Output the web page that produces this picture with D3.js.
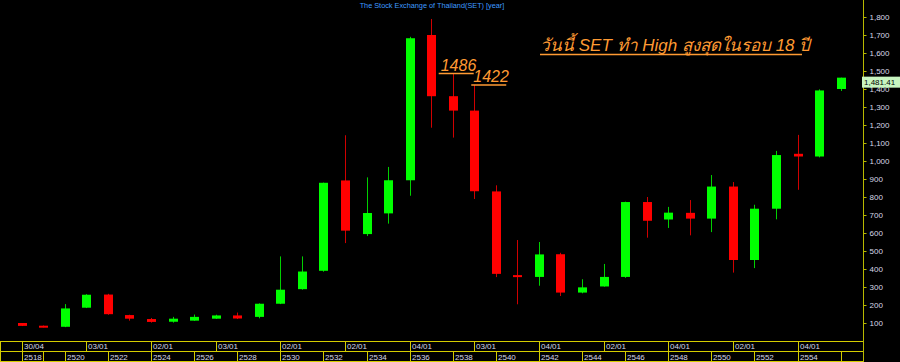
<!DOCTYPE html>
<html>
<head>
<meta charset="utf-8">
<script src="https://cdn.jsdelivr.net/npm/d3@7"></script>
<style>
  body { margin: 0; background: #000; }
  svg { display: block; }
</style>
</head>
<body>
<div id="chart"></div>
<script>
// yearly SET candles, Buddhist era years
var years = d3.range(2518, 2557);
var opens  = [100, 85, 79, 185, 258, 144, 122, 107, 113, 124, 142, 134, 207, 288, 390, 892, 594, 709, 893, 1700, 1360, 1280, 831, 366, 356, 482, 269, 303, 356, 772, 675, 712, 680, 858, 450, 735, 1040, 1025, 1400];
var highs  = [100, 86, 205, 260, 262, 146, 128, 134, 147, 146, 158, 209, 470, 470, 880, 1143, 909, 967, 1690, 1789, 1486, 1422, 865, 561, 550, 490, 343, 428, 774, 800, 745, 783, 922, 883, 757, 1056, 1145, 1398, 1463];
var lows   = [83, 76, 77, 183, 146, 113, 102, 102, 112, 123, 122, 126, 205, 285, 385, 544, 583, 652, 807, 1185, 1130, 789, 355, 204, 307, 250, 265, 302, 351, 574, 628, 587, 605, 380, 405, 676, 840, 1020, 1389];
var closes = [84, 77, 181, 257, 149, 124, 106, 124, 134, 142, 125, 207, 285, 386, 879, 613, 711, 893, 1682, 1360, 1280, 832, 373, 356, 481, 269, 298, 356, 772, 668, 713, 680, 858, 450, 735, 1033, 1025, 1392, 1463];

var priceTicks = d3.range(100, 1801, 100);
var dateLabels = ["30/04", "03/01", "02/01", "03/01", "02/01", "02/01", "04/01", "03/01", "04/01", "02/01", "04/01", "02/01", "04/01"];
var lastLabel = "1,481.41";

// annotated highs
var noteIdx = [20, 21];
var noteText = ["1486", "1422"];
var headline = "วันนี้ SET ทำ High สูงสุดในรอบ 18 ปี";

var W = 900, H = 362;
var axisX = 863, plotBottom = 341;

var svg = d3.select("#chart").append("svg")
    .attr("width", W)
    .attr("height", H)
    .style("background", "#000");

var x = d3.scaleLinear().domain([0, 38]).range([21.7, 840.6]);
var y = d3.scaleLinear().domain([0, 1800]).range([plotBottom, 17]);

var candles = years.map(function(yr, i){
    return {i: i, year: yr, o: opens[i], h: highs[i], l: lows[i], c: closes[i]};
});

//title
svg.append("text")
    .attr("x", 432)
    .attr("y", 8)
    .attr("text-anchor", "middle")
    .attr("font-family", "Liberation Sans, Arial, sans-serif")
    .attr("font-size", 7.3)
    .attr("fill", "#3f9bff")
    .text("The Stock Exchange of Thailand(SET) [year]");

//wicks
svg.selectAll(".wick")
    .data(candles)
    .enter()
    .append("line")
    .attr("class", "wick")
    .attr("x1", d => Math.round(x(d.i)) + 0.5)
    .attr("x2", d => Math.round(x(d.i)) + 0.5)
    .attr("y1", d => y(d.h))
    .attr("y2", d => y(d.l))
    .attr("stroke", d => d.c >= d.o ? "#00d000" : "#d00000")
    .attr("stroke-width", 1);

//bodies
svg.selectAll(".body")
    .data(candles)
    .enter()
    .append("rect")
    .attr("class", "body")
    .attr("x", d => Math.round(x(d.i)) - 4)
    .attr("width", 9)
    .attr("y", d => y(Math.max(d.o, d.c)))
    .attr("height", d => Math.max(2, Math.abs(y(d.o) - y(d.c))))
    .attr("fill", d => d.c >= d.o ? "#00ff00" : "#ff0000");

//right price axis
var yAxis = d3.axisRight(y)
    .tickValues(priceTicks)
    .tickSize(3)
    .tickPadding(3)
    .tickFormat(d3.format(","));

var ax = svg.append("g")
    .attr("transform", "translate(" + (axisX + 0.5) + ",0)")
    .call(yAxis);
ax.select(".domain").remove();
ax.selectAll(".tick line").attr("stroke", "#b8b800");
ax.selectAll(".tick text")
    .attr("fill", "#d8d8e8")
    .attr("font-family", "Liberation Sans, Arial, sans-serif")
    .attr("font-size", 8);

svg.append("line")
    .attr("x1", axisX + 0.5).attr("x2", axisX + 0.5)
    .attr("y1", 0).attr("y2", H)
    .attr("stroke", "#b8b800");

//last price label
var last = candles[candles.length - 1];
svg.append("rect")
    .attr("x", axisX - 1)
    .attr("y", y(last.c) - 1)
    .attr("width", W - axisX + 1)
    .attr("height", 11)
    .attr("fill", "#c8f5c0");
svg.append("text")
    .attr("x", axisX + 1)
    .attr("y", y(last.c) + 7.5)
    .attr("font-family", "Liberation Sans, Arial, sans-serif")
    .attr("font-size", 8)
    .attr("fill", "#000")
    .text(lastLabel);

//annotations at the highs
var noteDx = [-14, -3];
noteIdx.forEach(function(idx, k){
    var x0 = x(idx) + noteDx[k];
    var yy = y(highs[idx]);
    svg.append("line")
        .attr("x1", x0).attr("x2", x0 + 35)
        .attr("y1", yy).attr("y2", yy)
        .attr("stroke", "#ff9a33")
        .attr("stroke-width", 1.5);
    svg.append("text")
        .attr("x", x0 + 2)
        .attr("y", yy - 3)
        .attr("font-family", "Liberation Sans, Arial, sans-serif")
        .attr("font-style", "italic")
        .attr("font-size", 16)
        .attr("fill", "#ff9a33")
        .text(noteText[k]);
});

svg.append("text")
    .attr("x", 540)
    .attr("y", 51)
    .attr("font-family", "Liberation Sans, Arial, sans-serif")
    .attr("font-style", "italic")
    .attr("font-size", 17)
    .attr("fill", "#ff9a33")
    .text(headline);
svg.append("line")
    .attr("x1", 540).attr("x2", 802)
    .attr("y1", 54.5).attr("y2", 54.5)
    .attr("stroke", "#ff9a33")
    .attr("stroke-width", 1.5);

//date table at the bottom
var grid = "#d4cc00";
var rowTop = plotBottom + 0.5, rowMid = 351.5, rowBot = H - 0.5;
[rowTop, rowMid, rowBot].forEach(function(yy){
    svg.append("line")
        .attr("x1", 0).attr("x2", axisX)
        .attr("y1", yy).attr("y2", yy)
        .attr("stroke", grid);
});

var topIdx = dateLabels.map((d, k) => k * 3);
var topDiv = [0].concat(topIdx.map(i => x(i)));
svg.selectAll(".topdiv")
    .data(topDiv)
    .enter()
    .append("line")
    .attr("x1", d => Math.round(d) + 0.5).attr("x2", d => Math.round(d) + 0.5)
    .attr("y1", rowTop).attr("y2", rowMid)
    .attr("stroke", grid);

svg.selectAll(".toplab")
    .data(dateLabels)
    .enter()
    .append("text")
    .attr("x", (d, k) => Math.round(x(topIdx[k])) + 2)
    .attr("y", 349)
    .attr("font-family", "Liberation Sans, Arial, sans-serif")
    .attr("font-size", 8)
    .attr("fill", "#d8d8e8")
    .text(d => d);

var yearIdx = years.map((d, i) => i).filter(i => i % 2 === 0 && i <= 36);
var botDiv = [0, x(1)].concat(yearIdx.map(i => x(i))).concat([x(38)]);
svg.selectAll(".botdiv")
    .data(botDiv)
    .enter()
    .append("line")
    .attr("x1", d => Math.round(d) + 0.5).attr("x2", d => Math.round(d) + 0.5)
    .attr("y1", rowMid).attr("y2", rowBot)
    .attr("stroke", grid);

svg.selectAll(".botlab")
    .data(yearIdx)
    .enter()
    .append("text")
    .attr("x", i => Math.round(x(i)) + 2)
    .attr("y", 360)
    .attr("font-family", "Liberation Sans, Arial, sans-serif")
    .attr("font-size", 8)
    .attr("fill", "#d8d8e8")
    .text(i => years[i]);
</script>
</body>
</html>
